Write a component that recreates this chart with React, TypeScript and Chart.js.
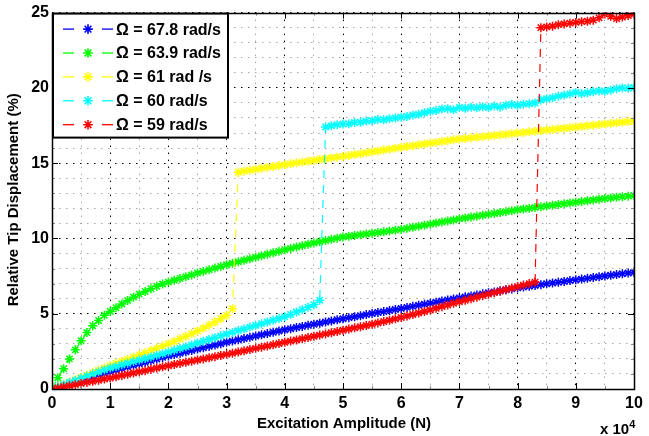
import React, { useEffect, useRef } from "react";
import { Chart, registerables } from "chart.js";

Chart.register(...registerables);

// Excitation amplitude, in units of 10^4 N
const excitation = [
  0, 0.1, 0.2, 0.3, 0.4, 0.5, 0.6, 0.7, 0.8, 0.9,
  1, 1.1, 1.2, 1.3, 1.4, 1.5, 1.6, 1.7, 1.8, 1.9,
  2, 2.1, 2.2, 2.3, 2.4, 2.5, 2.6, 2.7, 2.8, 2.9,
  3, 3.1, 3.2, 3.3, 3.4, 3.5, 3.6, 3.7, 3.8, 3.9,
  4, 4.1, 4.2, 4.3, 4.4, 4.5, 4.6, 4.7, 4.8, 4.9,
  5, 5.1, 5.2, 5.3, 5.4, 5.5, 5.6, 5.7, 5.8, 5.9,
  6, 6.1, 6.2, 6.3, 6.4, 6.5, 6.6, 6.7, 6.8, 6.9,
  7, 7.1, 7.2, 7.3, 7.4, 7.5, 7.6, 7.7, 7.8, 7.9,
  8, 8.1, 8.2, 8.3, 8.4, 8.5, 8.6, 8.7, 8.8, 8.9,
  9, 9.1, 9.2, 9.3, 9.4, 9.5, 9.6, 9.7, 9.8, 9.9,
  10,
];

const omega678 = [
  0, 0.12, 0.23, 0.35, 0.46, 0.58, 0.69, 0.81, 0.92, 1.04,
  1.15, 1.26, 1.36, 1.47, 1.57, 1.68, 1.78, 1.89, 1.99, 2.1,
  2.2, 2.29, 2.38, 2.47, 2.56, 2.65, 2.74, 2.83, 2.92, 3.01,
  3.1, 3.18, 3.27, 3.35, 3.43, 3.52, 3.6, 3.68, 3.77, 3.85,
  3.93, 4.0, 4.08, 4.15, 4.23, 4.3, 4.37, 4.45, 4.52, 4.6,
  4.67, 4.74, 4.8, 4.87, 4.94, 5.01, 5.08, 5.14, 5.21, 5.28,
  5.35, 5.42, 5.49, 5.56, 5.63, 5.7, 5.77, 5.84, 5.91, 5.98,
  6.05, 6.12, 6.18, 6.25, 6.32, 6.39, 6.45, 6.52, 6.59, 6.65,
  6.72, 6.77, 6.83, 6.88, 6.93, 6.99, 7.04, 7.09, 7.14, 7.2,
  7.25, 7.3, 7.35, 7.4, 7.45, 7.5, 7.55, 7.6, 7.65, 7.7,
  7.75,
];

const omega639 = [
  0, 0.75, 1.35, 2.0, 2.6, 3.2, 3.75, 4.2, 4.55, 4.9,
  5.15, 5.4, 5.65, 5.88, 6.1, 6.3, 6.48, 6.66, 6.82, 6.97,
  7.1, 7.22, 7.34, 7.46, 7.58, 7.7, 7.81, 7.92, 8.03, 8.14,
  8.25, 8.35, 8.45, 8.55, 8.65, 8.75, 8.85, 8.95, 9.05, 9.15,
  9.25, 9.34, 9.43, 9.52, 9.61, 9.7, 9.78, 9.86, 9.94, 10.02,
  10.1, 10.15, 10.2, 10.25, 10.3, 10.35, 10.4, 10.45, 10.5, 10.55,
  10.6, 10.67, 10.74, 10.81, 10.88, 10.95, 11.02, 11.09, 11.16, 11.23,
  11.3, 11.36, 11.42, 11.48, 11.54, 11.6, 11.66, 11.72, 11.78, 11.84,
  11.9, 11.95, 12.0, 12.05, 12.1, 12.15, 12.2, 12.25, 12.3, 12.35,
  12.4, 12.45, 12.5, 12.55, 12.6, 12.65, 12.69, 12.73, 12.77, 12.81,
  12.85,
];

const omega61 = [
  0, 0.15, 0.31, 0.46, 0.62, 0.77, 0.93, 1.08, 1.24, 1.39,
  1.55, 1.69, 1.83, 1.97, 2.11, 2.25, 2.4, 2.55, 2.7, 2.85,
  3.0, 3.16, 3.33, 3.5, 3.67, 3.85, 4.04, 4.24, 4.45, 4.67,
  4.9, 5.33, 14.4, 14.47, 14.53, 14.6, 14.66, 14.72, 14.78, 14.84,
  14.9, 14.96, 15.02, 15.07, 15.13, 15.18, 15.24, 15.29, 15.35, 15.4,
  15.45, 15.51, 15.57, 15.63, 15.69, 15.75, 15.81, 15.87, 15.93, 15.99,
  16.05, 16.11, 16.16, 16.22, 16.27, 16.33, 16.38, 16.44, 16.49, 16.55,
  16.6, 16.64, 16.68, 16.72, 16.76, 16.8, 16.84, 16.88, 16.92, 16.96,
  17.0, 17.04, 17.08, 17.12, 17.16, 17.2, 17.24, 17.28, 17.32, 17.36,
  17.4, 17.44, 17.48, 17.52, 17.56, 17.6, 17.64, 17.68, 17.72, 17.76,
  17.8,
];

const omega60 = [
  0, 0.15, 0.29, 0.43, 0.57, 0.71, 0.85, 0.99, 1.13, 1.27,
  1.4, 1.5, 1.61, 1.71, 1.82, 1.92, 2.03, 2.13, 2.24, 2.34,
  2.45, 2.57, 2.69, 2.81, 2.93, 3.05, 3.17, 3.29, 3.41, 3.53,
  3.65, 3.76, 3.88, 3.99, 4.11, 4.22, 4.34, 4.45, 4.57, 4.68,
  4.8, 4.95, 5.11, 5.27, 5.43, 5.6, 5.9, 17.4, 17.48, 17.55,
  17.6, 17.62, 17.7, 17.72, 17.8, 17.82, 17.9, 17.88, 17.95, 18.0,
  18.05, 18.1, 18.2, 18.25, 18.35, 18.45, 18.5, 18.6, 18.62, 18.55,
  18.7, 18.65, 18.72, 18.68, 18.75, 18.7, 18.8, 18.72, 18.85, 18.9,
  18.85, 18.92, 18.95, 19.0, 19.2, 19.28, 19.35, 19.45, 19.52, 19.6,
  19.7, 19.62, 19.68, 19.75, 19.8, 19.78, 19.85, 19.95, 20.0, 19.98,
  20.02,
];

const omega59 = [
  0, 0.07, 0.15, 0.22, 0.29, 0.37, 0.44, 0.51, 0.58, 0.66,
  0.73, 0.81, 0.9, 0.98, 1.06, 1.14, 1.22, 1.31, 1.39, 1.47,
  1.55, 1.63, 1.7, 1.78, 1.85, 1.93, 2.0, 2.08, 2.15, 2.23,
  2.3, 2.38, 2.46, 2.54, 2.62, 2.7, 2.78, 2.86, 2.94, 3.02,
  3.1, 3.18, 3.26, 3.34, 3.42, 3.5, 3.58, 3.66, 3.74, 3.82,
  3.9, 3.98, 4.06, 4.14, 4.22, 4.3, 4.39, 4.48, 4.57, 4.66,
  4.75, 4.85, 4.95, 5.05, 5.15, 5.25, 5.36, 5.47, 5.58, 5.69,
  5.8, 5.9, 6.0, 6.1, 6.2, 6.3, 6.4, 6.5, 6.6, 6.7,
  6.8, 6.9, 7.0, 7.1, 24.0, 24.05, 24.1, 24.2, 24.25, 24.3,
  24.35, 24.4, 24.42, 24.5, 24.65, 24.9, 24.75, 24.6, 24.7, 24.8,
  24.9,
];

const seriesLabels = [
  "Ω = 67.8 rad/s",
  "Ω = 63.9 rad/s",
  "Ω = 61 rad /s",
  "Ω = 60 rad/s",
  "Ω = 59 rad/s",
];
const seriesValues = [omega678, omega639, omega61, omega60, omega59];
const seriesColors = ["#0000ff", "#00ff00", "#ffff00", "#00ffff", "#ff0000"];

const xTickLabels = [0, 1, 2, 3, 4, 5, 6, 7, 8, 9, 10];
const yTickLabels = [0, 5, 10, 15, 20, 25];

const xTitle = "Excitation Amplitude (N)";
const yTitle = "Relative Tip Displacement (%)";
const xExponentBase = "x 10";
const xExponent = "4";

const FAMILY = '"Liberation Sans", Arial, Helvetica, sans-serif';

function drawStar(ctx: CanvasRenderingContext2D, x: number, y: number, r: number) {
  const d = r * Math.SQRT1_2;
  ctx.beginPath();
  ctx.moveTo(x - r, y);
  ctx.lineTo(x + r, y);
  ctx.moveTo(x, y - r);
  ctx.lineTo(x, y + r);
  ctx.moveTo(x - d, y - d);
  ctx.lineTo(x + d, y + d);
  ctx.moveTo(x - d, y + d);
  ctx.lineTo(x + d, y - d);
  ctx.stroke();
}

const decorPlugin = {
  id: "matlabDecor",
  afterDraw(chart: any) {
    const ctx: CanvasRenderingContext2D = chart.ctx;
    const a = chart.chartArea;
    const xs = chart.scales.x;
    const ys = chart.scales.y;
    ctx.save();

    const seg = (x1: number, y1: number, x2: number, y2: number) => {
      ctx.beginPath();
      ctx.moveTo(x1, y1);
      ctx.lineTo(x2, y2);
      ctx.stroke();
    };

    ctx.lineWidth = 1;
    // minor ticks
    ctx.strokeStyle = "#8a8a8a";
    for (const t of xs.ticks) {
      if (xTickLabels.includes(t.value)) continue;
      const px = Math.round(xs.getPixelForValue(t.value)) + 0.5;
      seg(px, a.bottom, px, a.bottom - 3);
      seg(px, a.top, px, a.top + 3);
    }
    for (const t of ys.ticks) {
      if (yTickLabels.includes(t.value)) continue;
      const py = Math.round(ys.getPixelForValue(t.value)) + 0.5;
      seg(a.left, py, a.left + 3, py);
      seg(a.right, py, a.right - 3, py);
    }
    // major ticks
    ctx.strokeStyle = "#000";
    for (const v of xTickLabels) {
      const px = Math.round(xs.getPixelForValue(v)) + 0.5;
      seg(px, a.bottom, px, a.bottom - 6);
      seg(px, a.top, px, a.top + 6);
    }
    for (const v of yTickLabels) {
      const py = Math.round(ys.getPixelForValue(v)) + 0.5;
      seg(a.left, py, a.left + 6, py);
      seg(a.right, py, a.right - 6, py);
    }
    // frame
    ctx.strokeStyle = "#000";
    ctx.lineWidth = 1.5;
    ctx.strokeRect(
      Math.round(a.left) + 0.5,
      Math.round(a.top) + 0.5,
      Math.round(a.right - a.left),
      Math.round(a.bottom - a.top)
    );

    // axis titles
    ctx.fillStyle = "#000";
    ctx.font = `bold 15px ${FAMILY}`;
    ctx.textAlign = "center";
    ctx.textBaseline = "alphabetic";
    ctx.fillText(xTitle, (a.left + a.right) / 2 + 1, a.bottom + 39);

    ctx.save();
    ctx.translate(a.left - 34, (a.top + a.bottom) / 2 - 1);
    ctx.rotate(-Math.PI / 2);
    ctx.fillText(yTitle, 0, 0);
    ctx.restore();

    // exponent label
    ctx.textAlign = "left";
    ctx.font = `bold 15px ${FAMILY}`;
    const ex = a.right - 34;
    const ey = a.bottom + 45;
    ctx.fillText(xExponentBase, ex, ey);
    const w = ctx.measureText(xExponentBase).width;
    ctx.font = `bold 11px ${FAMILY}`;
    ctx.fillText(xExponent, ex + w, ey - 6);

    // legend
    const lx = a.left + 1;
    const ly = a.top + 1;
    const lw = 175;
    const lh = 124;
    ctx.fillStyle = "#fff";
    ctx.fillRect(lx, ly, lw, lh);
    ctx.strokeStyle = "#000";
    ctx.lineWidth = 2;
    ctx.strokeRect(lx, ly, lw, lh);
    ctx.font = `bold 16px ${FAMILY}`;
    ctx.textBaseline = "middle";
    ctx.textAlign = "left";
    chart.data.datasets.forEach((ds: any, i: number) => {
      const cy = ly + 15.5 + i * 23.9;
      ctx.strokeStyle = ds.borderColor;
      ctx.lineWidth = 1.3;
      seg(lx + 10, cy, lx + 21, cy);
      seg(lx + 49, cy, lx + 60, cy);
      ctx.lineWidth = 1.6;
      drawStar(ctx, lx + 35, cy, 4.8);
      ctx.fillStyle = "#000";
      ctx.fillText(ds.label, lx + 63, cy + 1);
    });

    ctx.restore();
  },
};

export default function App() {
  const canvasRef = useRef<HTMLCanvasElement | null>(null);

  useEffect(() => {
    const canvas = canvasRef.current;
    if (!canvas) return;

    const datasets = seriesValues.map((vals, i) => ({
      label: seriesLabels[i],
      data: vals.map((y, k) => ({ x: excitation[k], y })),
      borderColor: seriesColors[i],
      backgroundColor: seriesColors[i],
      borderWidth: 1.2,
      borderDash: [8, 7],
      pointStyle: "star" as const,
      pointRadius: 4.5,
      pointBorderWidth: 1.5,
      pointBorderColor: seriesColors[i],
      pointBackgroundColor: seriesColors[i],
      tension: 0,
      order: seriesValues.length - i,
    }));

    const chart = new Chart(canvas, {
      type: "line",
      data: { datasets },
      plugins: [decorPlugin],
      options: {
        animation: false,
        responsive: false,
        devicePixelRatio: 1,
        layout: { padding: { left: 0, right: 15, top: 12, bottom: 0 } },
        plugins: {
          legend: { display: false },
          tooltip: { enabled: false },
        },
        scales: {
          x: {
            type: "linear",
            min: 0,
            max: 10,
            afterFit: (scale: any) => {
              scale.height = 47;
            },
            ticks: {
              stepSize: 0.5,
              autoSkip: false,
              maxRotation: 0,
              padding: 5,
              color: "#000",
              font: { family: FAMILY, size: 16, weight: "bold" },
              callback: (v: any) => (xTickLabels.includes(Number(v)) ? String(v) : ""),
            },
            grid: {
              drawTicks: false,
              lineWidth: 1,
              color: (c: any) => (c.tick && xTickLabels.includes(c.tick.value) ? "#000" : "#a8a8a8"),
            },
            border: { display: false, dash: [1.5, 5.5] },
          },
          y: {
            type: "linear",
            min: 0,
            max: 25,
            afterFit: (scale: any) => {
              scale.width = 52;
            },
            ticks: {
              stepSize: 1,
              autoSkip: false,
              padding: 3,
              color: "#000",
              font: { family: FAMILY, size: 16, weight: "bold" },
              callback: (v: any) => (yTickLabels.includes(Number(v)) ? String(v) : ""),
            },
            grid: {
              drawTicks: false,
              lineWidth: 1,
              color: (c: any) => (c.tick && yTickLabels.includes(c.tick.value) ? "#000" : "#a8a8a8"),
            },
            border: { display: false, dash: [1.5, 5.5] },
          },
        },
      },
    } as any);

    return () => {
      chart.destroy();
    };
  }, []);

  return (
    <div style={{ position: "fixed", left: 0, top: 0, width: 649, height: 436, background: "#fff" }}>
      <canvas ref={canvasRef} width={649} height={436} style={{ display: "block" }} />
    </div>
  );
}
